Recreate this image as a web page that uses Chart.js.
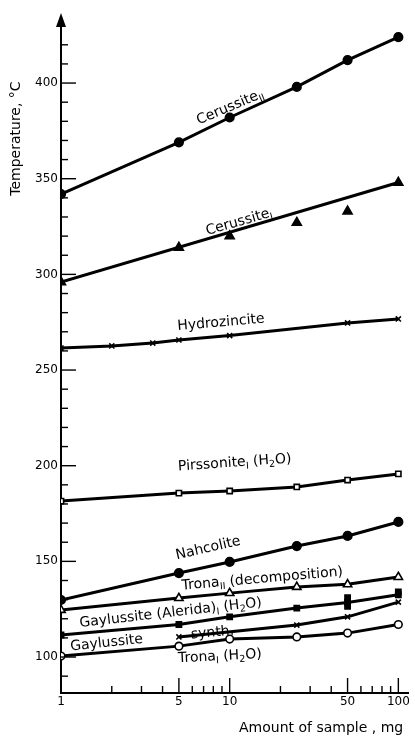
<!DOCTYPE html>
<html><head><meta charset="utf-8">
<script src="https://cdn.jsdelivr.net/npm/chart.js@4.4.1/dist/chart.umd.min.js"></script>
<style>html,body{margin:0;padding:0;background:#fff}canvas{display:block}</style>
</head><body>
<canvas id="c" width="415" height="737"></canvas>
<script>
// ---- data ----
const xCommon = [1, 5, 10, 25, 50, 100];
const cerussiteII = [342, 369, 382, 398, 412, 424];
const cerussiteI = [296, 314, 320, 327, 333, 348];
const cerussiteIFitX = [1, 100];
const cerussiteIFit = [296, 348];
const hydrozinciteX = [1, 2, 3.5, 5, 10, 50, 100];
const hydrozincite = [261.5, 262.6, 264.1, 265.7, 268, 274.6, 276.7];
const pirssonite = [181.5, 185.7, 186.8, 188.9, 192.5, 195.7];
const nahcolite = [129.8, 143.9, 149.7, 158, 163.3, 170.6];
const tronaII = [124.6, 130.8, 133.4, 136.6, 138, 141.8];
const gaylussiteAlerida = [111.5, 117, 121, 125.6, 128.5, 132.5];
const gaylussiteAleridaExtraX = [50, 50, 100];
const gaylussiteAleridaExtra = [126.5, 131, 134];
const gaylussiteSynthX = [5, 25, 50, 100];
const gaylussiteSynth = [110.5, 116.7, 121, 128.7];
const tronaI = [100.5, 105.7, 109.4, 110.5, 112.5, 117];

const xTickValues = [1, 2, 3, 4, 5, 6, 7, 8, 9, 10, 20, 30, 40, 50, 60, 70, 80, 90, 100];
const xTickLabels = [1, 5, 10, 50, 100];
const yTickValues = [90,100,110,120,130,140,150,160,170,180,190,200,210,220,230,240,250,260,270,280,290,300,310,320,330,340,350,360,370,380,390,400,410,420];
const yTickLabels = [100, 150, 200, 250, 300, 350, 400];

const curveLabels = [
  {x: 10.0, y: 388, a: -23, parts: [['Cerussite'], ['II', 1]]},
  {x: 11.3, y: 328, a: -16, parts: [['Cerussite'], ['I', 1]]},
  {x: 8.86, y: 275.5, a: -5, parts: [['Hydrozincite']]},
  {x: 10.7, y: 202.2, a: -4, parts: [['Pirssonite'], ['I', 1], [' (H'], ['2', 1], ['O)']]},
  {x: 7.43, y: 157.5, a: -13, parts: [['Nahcolite']]},
  {x: 15.6, y: 141.5, a: -5, parts: [['Trona'], ['II', 1], [' (decomposition)']]},
  {x: 4.46, y: 123.7, a: -6.5, parts: [['Gaylussite (Alerida)'], ['I', 1], [' (H'], ['2', 1], ['O)']]},
  {x: 1.86, y: 108, a: -6, parts: [['Gaylussite']]},
  {x: 7.9, y: 113.3, a: -5, parts: [['synth.']]},
  {x: 8.74, y: 101, a: -3, parts: [['Trona'], ['I', 1], [' (H'], ['2', 1], ['O)']]}
];

const FONT = '"DejaVu Sans", sans-serif';
const INK = '#000';
const pts = (xs, ys) => xs.map((x, i) => ({x, y: ys[i]}));

function series(xs, ys, style, fill, extra) {
  return Object.assign({
    data: pts(xs, ys), showLine: true, borderColor: INK, borderWidth: 3,
    pointStyle: style, pointRadius: 4.3, pointBackgroundColor: fill, pointBorderColor: INK,
    pointBorderWidth: 1.6, tension: 0
  }, extra || {});
}

const datasets = [
  series(xCommon, cerussiteII, 'circle', INK),
  series(cerussiteIFitX, cerussiteIFit, 'triangle', INK, {pointRadius: 0}),
  series(xCommon, cerussiteI, 'triangle', INK, {showLine: false, pointRadius: 5.2}),
  series(hydrozinciteX, hydrozincite, 'crossRot', INK, {pointRadius: 3.6}),
  series(xCommon, pirssonite, 'rect', '#fff', {pointRadius: 3.7}),
  series(xCommon, nahcolite, 'circle', INK),
  series(xCommon, tronaII, 'triangle', '#fff', {pointRadius: 4.8}),
  series(xCommon, gaylussiteAlerida, 'rect', INK, {pointRadius: 3.7}),
  series(gaylussiteAleridaExtraX, gaylussiteAleridaExtra, 'rect', INK, {showLine: false, pointRadius: 3.7}),
  series(gaylussiteSynthX, gaylussiteSynth, 'crossRot', INK, {pointRadius: 3.6}),
  series(xCommon, tronaI, 'circle', '#fff', {pointRadius: 3.8})
];

const decor = {
  id: 'decor',
  afterDraw(chart) {
    const ctx = chart.ctx, xs = chart.scales.x, ys = chart.scales.y, ca = chart.chartArea;
    ctx.save();
    ctx.strokeStyle = INK; ctx.fillStyle = INK; ctx.lineWidth = 1.4;
    // inward ticks
    yTickValues.forEach(v => {
      const y = ys.getPixelForValue(v), len = v % 50 === 0 ? 15 : 7;
      ctx.beginPath(); ctx.moveTo(ca.left, y); ctx.lineTo(ca.left + len, y); ctx.stroke();
    });
    xTickValues.forEach(v => {
      if (v === 1) return;
      const x = xs.getPixelForValue(v), len = xTickLabels.includes(v) ? 15 : 7;
      ctx.beginPath(); ctx.moveTo(x, ca.bottom); ctx.lineTo(x, ca.bottom - len); ctx.stroke();
    });
    // axis arrow
    ctx.beginPath();
    ctx.moveTo(ca.left, ca.top - 14); ctx.lineTo(ca.left - 5, ca.top); ctx.lineTo(ca.left + 5, ca.top);
    ctx.closePath(); ctx.fill();
    // axis titles
    ctx.font = '14px ' + FONT; ctx.textBaseline = 'middle';
    ctx.save();
    ctx.translate(16, ys.getPixelForValue(371)); ctx.rotate(-Math.PI / 2);
    ctx.textAlign = 'center'; ctx.fillText('Temperature, °C', 0, 0);
    ctx.restore();
    ctx.textAlign = 'right';
    ctx.fillText('Amount of sample , mg', ca.right - 5, chart.height - 9);
    // curve labels
    curveLabels.forEach(l => {
      const big = '14px ' + FONT, small = '9.5px ' + FONT;
      let w = 0;
      l.parts.forEach(p => { ctx.font = p[1] ? small : big; w += ctx.measureText(p[0]).width; });
      ctx.save();
      ctx.translate(xs.getPixelForValue(l.x), ys.getPixelForValue(l.y));
      ctx.rotate(l.a * Math.PI / 180);
      ctx.textAlign = 'left'; ctx.textBaseline = 'alphabetic';
      let cx = -w / 2;
      l.parts.forEach(p => {
        ctx.font = p[1] ? small : big;
        ctx.fillText(p[0], cx, p[1] ? 8 : 5);
        cx += ctx.measureText(p[0]).width;
      });
      ctx.restore();
    });
    ctx.restore();
  }
};

new Chart(document.getElementById('c'), {
  type: 'scatter',
  data: {datasets},
  options: {
    responsive: false, animation: false, devicePixelRatio: 1,
    layout: {padding: {top: 27, right: 2, left: 0, bottom: 0}},
    plugins: {legend: {display: false}, tooltip: {enabled: false}},
    scales: {
      x: {
        type: 'logarithmic', min: 1, max: 114.4,
        afterBuildTicks: s => { s.ticks = xTickValues.map(v => ({value: v})); },
        afterFit: s => { s.height = 44; },
        grid: {display: false, drawTicks: false},
        border: {display: true, color: INK, width: 2},
        ticks: {autoSkip: false, maxRotation: 0, padding: 2, color: INK, font: {family: FONT, size: 12},
          callback: v => xTickLabels.includes(v) ? String(v) : ''}
      },
      y: {
        type: 'linear', min: 81.2, max: 429.3,
        afterBuildTicks: s => { s.ticks = yTickLabels.map(v => ({value: v})); },
        afterFit: s => { s.width = 61; },
        grid: {display: false, drawTicks: false},
        border: {display: true, color: INK, width: 2},
        ticks: {padding: 3, color: INK, font: {family: FONT, size: 12}}
      }
    }
  },
  plugins: [decor]
});
</script>
</body></html>
